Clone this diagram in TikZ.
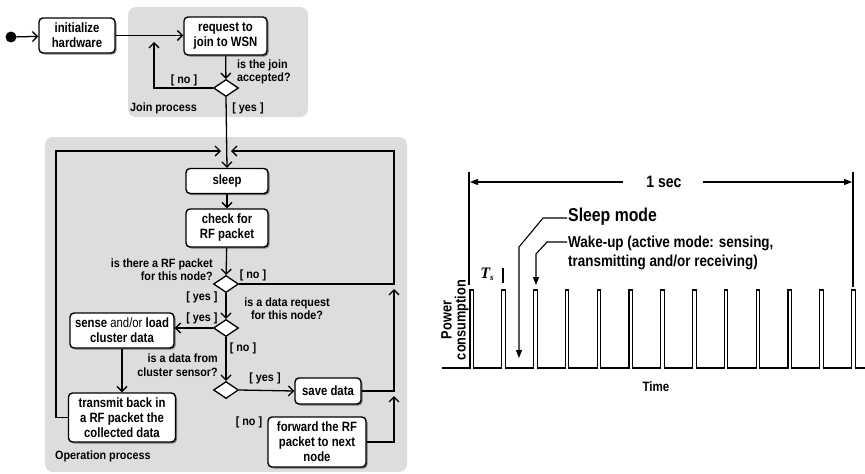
\documentclass[tikz,border=0pt]{standalone}
\usepackage{fontspec}
\setmainfont{Liberation Sans}
\newfontfamily\tsfont{Liberation Serif}
\newfontfamily\boxfont[FakeStretch=0.84]{Liberation Sans}
\newfontfamily\lblfont[FakeStretch=0.9]{Liberation Sans}
\newfontfamily\chartfont[FakeStretch=0.85]{Liberation Sans}
\usetikzlibrary{arrows.meta,shapes.geometric,shadows}
\definecolor{panelgray}{RGB}{221,221,221}
\tikzset{
  actbox/.style={draw=black, line width=1.4pt, fill=white, rounded corners=4pt, align=center,
     inner sep=1pt, font=\boxfont\fontsize{13.5}{15}\selectfont\bfseries,
     drop shadow={shadow xshift=1.5pt, shadow yshift=-1.5pt, opacity=0.45, fill=black}},
  decide/.style={diamond, draw=black, line width=1.3pt, fill=white, minimum width=25pt, minimum height=17pt, inner sep=0pt},
  lbl/.style={font=\lblfont\fontsize{12}{13.5}\selectfont\bfseries, inner sep=0pt},
  flow/.style={line width=1.3pt, -{Straight Barb[length=5pt,width=10pt,line width=1.3pt]}},
  panel/.style={fill=panelgray, rounded corners=8pt},
  chart/.style={line width=1.1pt},
  leader/.style={line width=1.1pt, -{Triangle[length=8pt,width=6pt]}},
}
\begin{document}
\begin{tikzpicture}[x=1pt,y=-1pt]
\useasboundingbox (0,0) rectangle (865,474);
% panels
\fill[panel] (128,7) rectangle (308,117);
\fill[panel] (45,137) rectangle (407,472);
% start and join process
\node[circle, fill=black, minimum size=11pt, inner sep=0pt] (start) at (11,37) {};
\node[actbox, minimum width=76pt, minimum height=35pt] (init) at (77,35.5) {initialize\\hardware};
\node[actbox, minimum width=83pt, minimum height=38pt] (req) at (225.5,36) {request to\\join to WSN};
\node[decide] (d1) at (226,88) {};
\draw[flow] (start) -- (init);
\draw[flow] (init.east) -- (req.west |- init.east);
\draw[flow] (req) -- (d1);
\coordinate (noend) at (154,42);
\draw[flow] (d1.west) -| (noend);
\node[lbl, anchor=west, align=left] (q1) at (237,72) {is the join\\accepted?};
\node[lbl] (no1) at (184,80) {[ no ]};
\node[lbl, anchor=west] (jp) at (130,108) {Join process};
\node[lbl] (yes1) at (248,108) {[ yes ]};
% operation process
\node[actbox, minimum width=82pt, minimum height=25pt] (sleep) at (227,181) {sleep};
\node[actbox, minimum width=82pt, minimum height=38pt] (check) at (227,228) {check for\\RF packet};
\node[decide] (d2) at (226,284) {};
\node[decide] (d3) at (226,328) {};
\node[decide] (d4) at (226,390) {};
\node[actbox, minimum width=104pt, minimum height=35pt] (sense) at (122,330.5) {sense {\mdseries and/or} load\\cluster data};
\node[actbox, minimum width=107pt, minimum height=49pt] (transmit) at (122,417.5) {transmit back in\\a RF packet the\\collected data};
\node[actbox, minimum width=66pt, minimum height=26pt] (save) at (328,391) {save data};
\node[actbox, minimum width=98pt, minimum height=50pt] (forward) at (317,442) {forward the RF\\packet to next\\node};
\draw[flow] (d1.south) -- (sleep.north);
\draw[flow] (sleep) -- (check);
\draw[flow] (check) -- (d2);
\draw[flow] (d2) -- (d3);
\draw[flow] (d3) -- (d4);
\draw[flow] (d3.west) -- (sense.east |- d3.west);
\draw[flow] (sense) -- (transmit);
\draw[flow] (d4.east) -- (save.west);
\coordinate (lt) at (56,151);
\coordinate (ml) at (221,151);
\coordinate (rt) at (394,151);
\coordinate (mr) at (231,151);
\draw[flow] (transmit.west) -| (lt) -- (ml);
\draw[flow] (d2.east) -| (rt) -- (mr);
\coordinate (j1) at (394,289);
\coordinate (j2) at (394,396);
\draw[flow] (save.east) -| (j1);
\draw[flow] (forward.east) -| (j2);
\node[lbl, anchor=east, align=right] (q2) at (213,269.5) {is there a RF packet\\for this node?};
\node[lbl] (no2) at (253,275) {[ no ]};
\node[lbl] (yes2) at (202,297) {[ yes ]};
\node[lbl, align=center] (q3) at (287,308.5) {is a data request\\for this node?};
\node[lbl] (yes3) at (202,318) {[ yes ]};
\node[lbl] (no3) at (243,348) {[ no ]};
\node[lbl, anchor=east, align=right] (q4) at (218,365) {is a data from\\cluster sensor?};
\node[lbl] (yes4) at (265,378) {[ yes ]};
\node[lbl] (no4) at (249,422) {[ no ]};
\node[lbl, anchor=west] (op) at (55,456) {Operation process};
% right chart
\coordinate (lv1) at (469,172);
\coordinate (lv2) at (469,285);
\coordinate (rv1) at (853,172);
\coordinate (rv2) at (853,287);
\draw[chart] (lv1) -- (lv2);
\draw[chart] (rv1) -- (rv2);
\node[font=\chartfont\fontsize{16.5}{18}\selectfont\bfseries, inner sep=0pt] (sec) at (664,182) {1 sec};
\coordinate (sl) at (470,182);
\coordinate (sr) at (852,182);
\draw[leader] (623,182) -- (sl);
\draw[leader] (703,182) -- (sr);
\coordinate (ts1) at (503,268);
\coordinate (ts2) at (503,283);
\draw[chart] (ts1) -- (ts2);
\node[font=\tsfont\bfseries\itshape\fontsize{16}{17}\selectfont, inner sep=0pt] (ts) at (487,274) {T\raisebox{-2pt}{\fontsize{9}{10}\selectfont s}};
\node[font=\chartfont\fontsize{18.6}{20}\selectfont\bfseries, anchor=west, inner sep=0pt] (sm) at (568,217) {Sleep mode};
\node[font=\chartfont\fontsize{15.8}{19}\selectfont\bfseries, anchor=west, align=left, inner sep=0pt] (wu) at (568,253) {Wake-up (active mode: sensing,\\transmitting and/or receiving)};
\coordinate (smt) at (519,358);
\coordinate (wut) at (536,285);
\draw[leader] (567,218) -- (543,218) -- (519,247) -- (smt);
\draw[leader] (567,242) -- (547,242) -- (536,254) -- (wut);
% pulses
\draw[chart] (442,368)
  \foreach \i in {0,...,12} { -- ({470+\i*31.8},368) -- ({470+\i*31.8},290) -- ({473.5+\i*31.8},290) -- ({473.5+\i*31.8},368) }
  -- (865,368);
\node[font=\chartfont\fontsize{15}{14}\selectfont\bfseries, rotate=90, align=center, inner sep=0pt] (pc) at (455,320) {Power\\consumption};
\node[font=\chartfont\fontsize{13.6}{15}\selectfont\bfseries, inner sep=0pt] (time) at (656,387) {Time};
\end{tikzpicture}
\end{document}
